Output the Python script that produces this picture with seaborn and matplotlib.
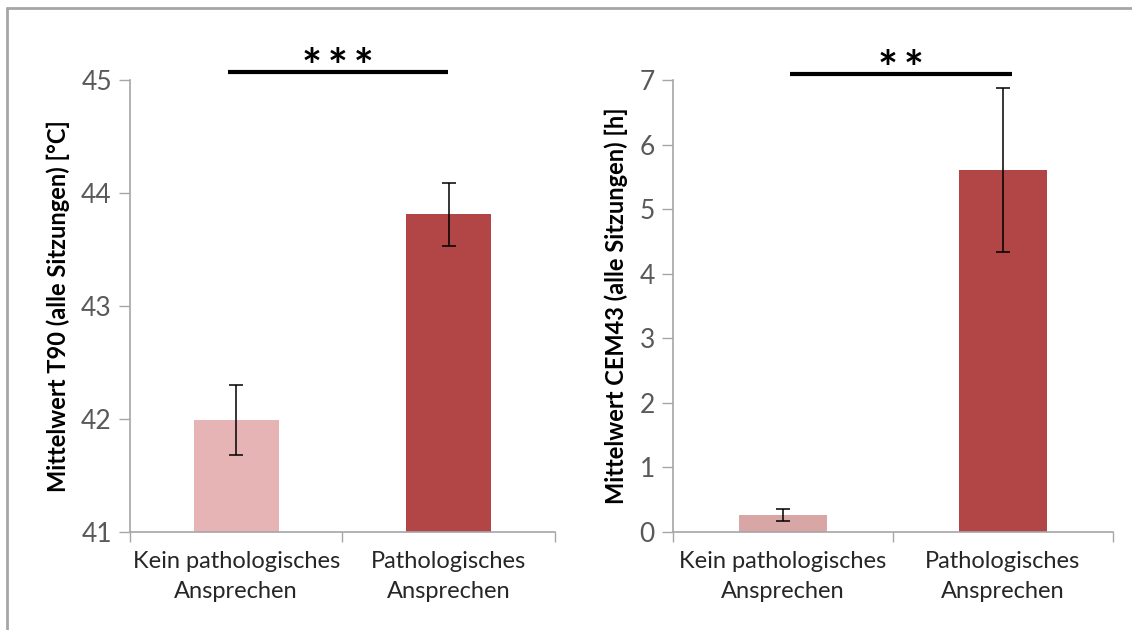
import matplotlib
matplotlib.use("Agg")
import matplotlib.pyplot as plt
import seaborn as sns
import pandas as pd
from matplotlib.lines import Line2D

categories = ["Kein pathologisches\nAnsprechen", "Pathologisches\nAnsprechen"]
t90_means = [41.99, 43.81]
t90_err = [0.31, 0.28]
cem43_means = [0.265, 5.60]
cem43_err = [0.09, 1.27]
t90_ticks = [41, 42, 43, 44, 45]
cem43_ticks = [0, 1, 2, 3, 4, 5, 6, 7]

sns.set_theme(style="white")
plt.rcParams['font.family'] = ['Lato', 'DejaVu Sans']

fig = plt.figure(figsize=(11.32, 6.30), dpi=100)
ax1 = fig.add_axes([0.1148, 0.1556, 0.3755, 0.7174])
ax2 = fig.add_axes([0.5945, 0.1556, 0.3887, 0.7174])

# frame around figure (top and left visible)
fig.add_artist(Line2D([0.0062, 0.0062], [0, 0.987], transform=fig.transFigure, color='#A6A6A6', lw=2))
fig.add_artist(Line2D([0.0062, 1.0], [0.987, 0.987], transform=fig.transFigure, color='#A6A6A6', lw=2))

def panel(ax, means, errs, colors, ticks, ylabel, stars, line_x, star_y_line):
    df = pd.DataFrame({"cat": categories, "val": means})
    sns.barplot(data=df, x="cat", y="val", hue="cat", palette=colors, legend=False,
                width=0.40, ax=ax, errorbar=None, saturation=1, linewidth=0)
    ax.errorbar(x=[0, 1], y=means, yerr=errs, fmt='none', ecolor='black', elinewidth=1.1,
                capsize=5, capthick=1.1, zorder=5)
    ax.set_xlim(-0.5, 1.5)
    ax.set_ylim(ticks[0], ticks[-1])
    ax.set_yticks(ticks)
    ax.set_yticklabels([str(t) for t in ticks], fontsize=19, color='#595959')
    ax.tick_params(axis='y', which='major', left=True, length=8, width=1, color='#A6A6A6', pad=5)
    ax.tick_params(axis='x', which='major', bottom=False, labelsize=17, labelcolor='#262626', pad=8)
    ax.set_xticks([-0.5, 0.5, 1.5], minor=True)
    ax.tick_params(axis='x', which='minor', bottom=True, length=7, width=1, color='#A6A6A6')
    for lab in ax.get_xticklabels():
        lab.set_linespacing(1.5)
    ax.set_xlabel("")
    ax.set_ylabel(ylabel, fontsize=17, fontweight='bold', color='black', labelpad=8)
    for s in ['top', 'right']:
        ax.spines[s].set_visible(False)
    for s in ['left', 'bottom']:
        ax.spines[s].set_color('#A6A6A6')
        ax.spines[s].set_linewidth(1.2)
    # significance bar
    ax.plot(line_x, [star_y_line, star_y_line], color='black', lw=3, clip_on=False,
            solid_capstyle='butt')
    ax.annotate(stars, xy=((line_x[0] + line_x[1]) / 2, star_y_line), xycoords='data',
                xytext=(0, -14), textcoords='offset points', ha='center', va='bottom',
                fontsize=34, fontweight='bold', color='black', annotation_clip=False)

panel(ax1, t90_means, t90_err, ['#E6B4B4', '#B24545'], t90_ticks,
      "Mittelwert T90 (alle Sitzungen) [°C]", "*\u2009*\u2009*", [-0.04, 0.995], 45.075)
panel(ax2, cem43_means, cem43_err, ['#D9A6A6', '#B24545'], cem43_ticks,
      "Mittelwert CEM43 (alle Sitzungen) [h]", "*\u2009*", [0.03, 1.04], 7.1)

fig.savefig("out.png", dpi=100, facecolor='white')
